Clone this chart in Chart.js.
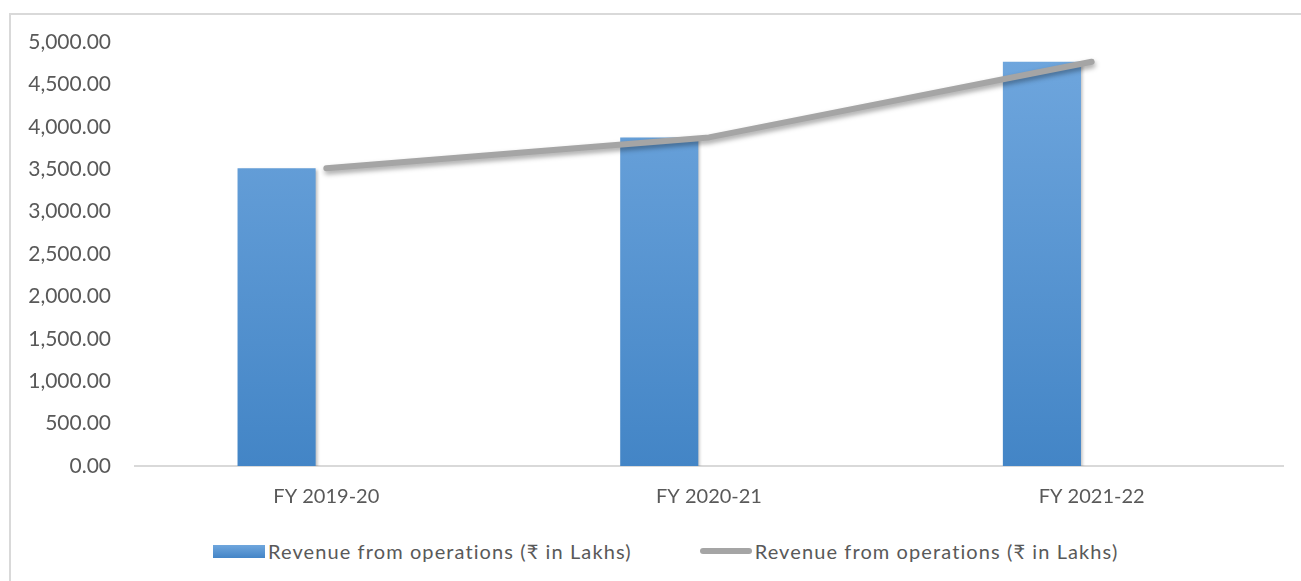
<!DOCTYPE html>
<html>
<head>
<meta charset="utf-8">
<script src="https://cdn.jsdelivr.net/npm/chart.js@4.4.1/dist/chart.umd.min.js"></script>
<style>
  html, body { margin: 0; padding: 0; background: #fff; width: 1301px; height: 581px; overflow: hidden; }
  #frame { position: absolute; left: 9px; top: 13px; width: 1300px; height: 580px;
           border-left: 2px solid #d9d9d9; border-top: 2px solid #d9d9d9; }
  #wrap { position: absolute; left: 0; top: 0; width: 1301px; height: 530px; }
  #legend { position: absolute; left: 213px; top: 538px; height: 26px; display: flex; align-items: center;
            font-family: Lato, "Noto Sans", sans-serif; font-size: 20px; letter-spacing: 1.1px;
            color: #595959; white-space: nowrap; }
  .item { display: flex; align-items: center; }
  .swatch-bar { width: 52px; height: 13px; background: linear-gradient(#6fa6dd, #4485c7); margin-right: 3px; }
  .swatch-line { width: 52px; height: 6px; border-radius: 3px; background: #a5a5a5; margin-right: 3px; }
</style>
</head>
<body>
<div id="frame"></div>
<div id="wrap"><canvas id="chart"></canvas></div>
<div id="legend">
  <div class="item"><span class="swatch-bar"></span><span id="lg1"></span></div>
  <div class="item" style="margin-left:68px"><span class="swatch-line"></span><span id="lg2"></span></div>
</div>
<script>
const categories = ["FY 2019-20", "FY 2020-21", "FY 2021-22"];
const revenueBars = [3512, 3875, 4767];
const revenueLine = [3512, 3875, 4767];
const seriesLabel = "Revenue from operations (\u20B9 in Lakhs)";

const $ = (id) => document.getElementById(id);
const FONT = { family: "Lato, 'Noto Sans', sans-serif", size: 20 };
const TEXT = "#595959";

function fmt(n) {
  return Number(n).toLocaleString("en-US", { minimumFractionDigits: 2, maximumFractionDigits: 2 });
}

function barGradient(ctx) {
  const area = ctx.chart.chartArea;
  if (!area) return "#5b9bd5";
  const g = ctx.chart.ctx.createLinearGradient(0, area.top, 0, area.bottom);
  g.addColorStop(0, "#70a7de");
  g.addColorStop(1, "#4385c6");
  return g;
}

// soft drop shadow like the office chart
const shadowPlugin = {
  id: "shadow",
  beforeDatasetDraw(chart, args) {
    const c = chart.ctx;
    c.save();
    if (args.meta.type === "line") {
      c.shadowColor = "rgba(0,0,0,0.35)";
      c.shadowBlur = 5;
      c.shadowOffsetX = 1;
      c.shadowOffsetY = 3;
    } else {
      c.shadowColor = "rgba(0,0,0,0.25)";
      c.shadowBlur = 3;
      c.shadowOffsetX = 2;
      c.shadowOffsetY = 2;
    }
  },
  afterDatasetDraw(chart) {
    chart.ctx.restore();
  }
};

$("lg1").textContent = seriesLabel;
$("lg2").textContent = seriesLabel;

new Chart($("chart"), {
  type: "bar",
  data: {
    labels: categories,
    datasets: [
      { type: "line", label: seriesLabel, data: revenueLine, borderColor: "#a5a5a5", borderWidth: 6,
        borderCapStyle: "round", borderJoinStyle: "round", pointRadius: 0, tension: 0, order: 0 },
      { label: seriesLabel, data: revenueBars, backgroundColor: barGradient, borderWidth: 0,
        barPercentage: 0.785, categoryPercentage: 0.52, order: 1 },
      // empty second column series (keeps the columns left of the category centre)
      { label: "", data: [null, null, null], barPercentage: 0.785, categoryPercentage: 0.52, order: 2 }
    ]
  },
  options: {
    responsive: true,
    maintainAspectRatio: false,
    animation: false,
    layout: { padding: { left: 0, right: 18, top: 42, bottom: 0 } },
    plugins: { legend: { display: false }, tooltip: { enabled: false } },
    scales: {
      x: {
        grid: { display: false, drawTicks: false },
        border: { color: "#d9d9d9", width: 2 },
        ticks: { color: TEXT, font: FONT, padding: 19, maxRotation: 0 },
        afterFit: (s) => { s.height = 64; }
      },
      y: {
        min: 0, max: 5000,
        grid: { display: false, drawTicks: false },
        border: { display: false },
        ticks: { stepSize: 500, color: TEXT, font: { family: FONT.family, size: 21 }, padding: 24, callback: (v) => fmt(v) },
        afterFit: (s) => { s.width = 135; }
      }
    }
  },
  plugins: [shadowPlugin]
});
</script>
</body>
</html>
